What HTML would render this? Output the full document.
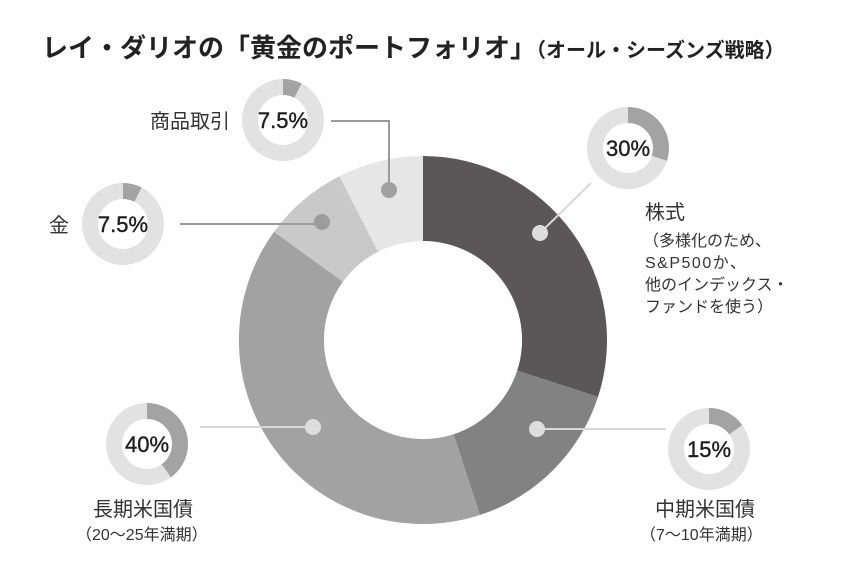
<!DOCTYPE html>
<html><head><meta charset="utf-8"><style>
html,body{margin:0;padding:0;background:#fff;}
svg{display:block;}
text{font-family:"Liberation Sans","Noto Sans CJK JP",sans-serif;}
</style></head><body>
<svg width="855" height="567" viewBox="0 0 855 567" xmlns="http://www.w3.org/2000/svg">
<text x="42" y="57" font-size="26" font-weight="bold" fill="#222" font-family="Noto Sans CJK JP, sans-serif">レイ・ダリオの「黄金のポートフォリオ」<tspan font-size="20">（オール・シーズンズ戦略）</tspan></text>

<!-- main donut -->
<path d="M423,156 A184,184 0 0 1 598,396.9 L517.2,370.6 A99,99 0 0 0 423,241 Z" fill="#5b5758"/>
<path d="M598,396.9 A184,184 0 0 1 479.9,515 L453.6,434.2 A99,99 0 0 0 517.2,370.6 Z" fill="#828282"/>
<path d="M479.9,515 A184,184 0 0 1 274.1,231.8 L342.9,281.8 A99,99 0 0 0 453.6,434.2 Z" fill="#a2a2a2"/>
<path d="M274.1,231.8 A184,184 0 0 1 339.5,176.1 L378.1,251.8 A99,99 0 0 0 342.9,281.8 Z" fill="#c9c9c9"/>
<path d="M339.5,176.1 A184,184 0 0 1 423,156 L423,241 A99,99 0 0 0 378.1,251.8 Z" fill="#e6e6e6"/>

<!-- connectors -->
<g fill="none" stroke-width="2">
<polyline points="331,121 389,121 389,190" stroke="#9a9a9a"/>
<line x1="180" y1="224" x2="322" y2="224" stroke="#9a9a9a"/>
<line x1="540" y1="233" x2="591" y2="183" stroke="#d8d8d8"/>
<line x1="200" y1="427" x2="313" y2="427" stroke="#d8d8d8"/>
<line x1="537" y1="429" x2="666" y2="429" stroke="#d8d8d8"/>
</g>
<circle cx="389" cy="190" r="8" fill="#a0a0a0"/>
<circle cx="322" cy="222" r="8" fill="#9c9c9c"/>
<circle cx="540" cy="233" r="8" fill="#dddddd"/>
<circle cx="537" cy="429" r="8" fill="#dddddd"/>
<circle cx="313" cy="427" r="8" fill="#dddddd"/>

<!-- small donuts -->
<g fill="none" stroke-width="16">
<circle cx="283" cy="120" r="33" stroke="#e2e2e2"/>
<circle cx="283" cy="120" r="33" stroke="#a3a3a3" stroke-dasharray="15.55 999" transform="rotate(-90 283 120)"/>
<circle cx="123" cy="224" r="33" stroke="#e2e2e2"/>
<circle cx="123" cy="224" r="33" stroke="#a3a3a3" stroke-dasharray="15.55 999" transform="rotate(-90 123 224)"/>
<circle cx="628" cy="148" r="33" stroke="#e2e2e2"/>
<circle cx="628" cy="148" r="33" stroke="#a3a3a3" stroke-dasharray="62.2 999" transform="rotate(-90 628 148)"/>
<circle cx="147" cy="444" r="33" stroke="#e2e2e2"/>
<circle cx="147" cy="444" r="33" stroke="#a3a3a3" stroke-dasharray="82.9 999" transform="rotate(-90 147 444)"/>
<circle cx="709" cy="449" r="33" stroke="#e2e2e2"/>
<circle cx="709" cy="449" r="33" stroke="#a3a3a3" stroke-dasharray="31.1 999" transform="rotate(-90 709 449)"/>
</g>
<g font-size="22" fill="#1e1e1e" text-anchor="middle" stroke="#1e1e1e" stroke-width="0.4">
<text x="283" y="128">7.5%</text>
<text x="123" y="232">7.5%</text>
<text x="628" y="156">30%</text>
<text x="147" y="452">40%</text>
<text x="709" y="457">15%</text>
</g>

<!-- labels -->
<g fill="#333">
<text x="230" y="128" font-size="20" text-anchor="end">商品取引</text>
<text x="49" y="232" font-size="20">金</text>
<text x="645" y="219" font-size="20">株式</text>
<text x="643" y="246" font-size="16">（多様化のため、</text>
<text x="645" y="268" font-size="16" letter-spacing="1.5">S&amp;P500か、</text>
<text x="645" y="290" font-size="16">他のインデックス・</text>
<text x="645" y="312" font-size="16">ファンドを使う）</text>
<text x="93" y="516" font-size="20">長期米国債</text>
<text x="76" y="540" font-size="16">（20～25年満期）</text>
<text x="655" y="516" font-size="20">中期米国債</text>
<text x="640" y="540" font-size="16">（7～10年満期）</text>
</g>
</svg>
</body></html>
